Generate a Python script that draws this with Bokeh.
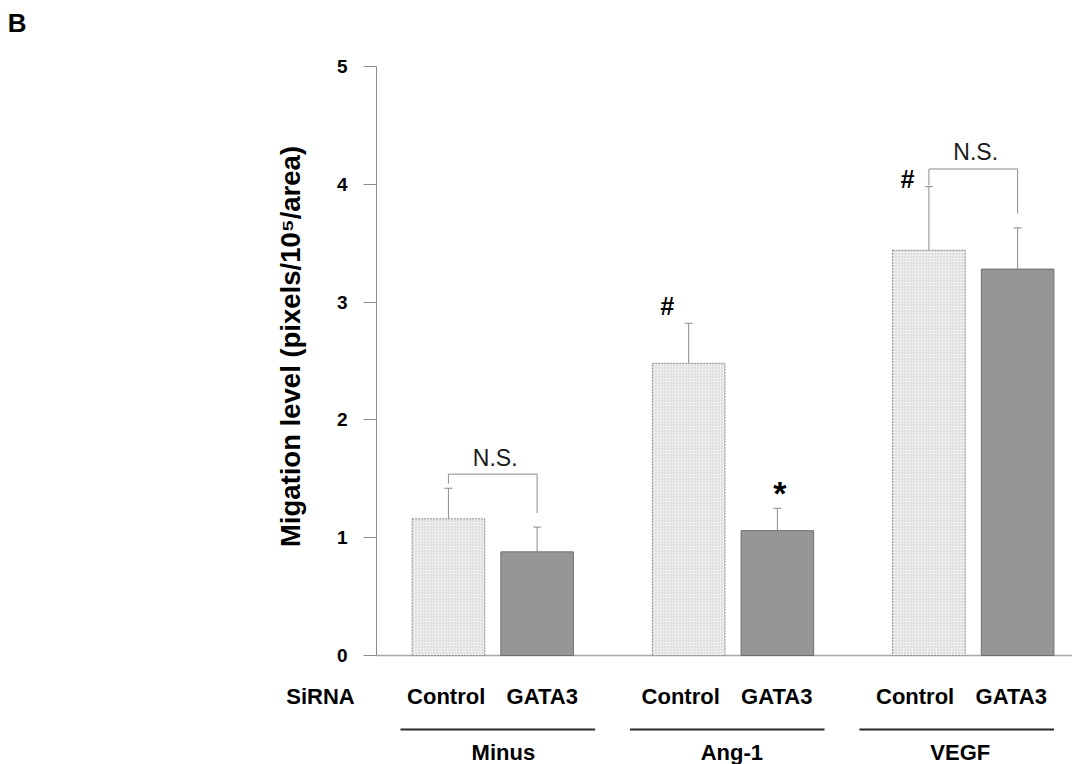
import math
from bokeh.plotting import figure
from bokeh.models import ColumnDataSource, Range1d, FixedTicker, Whisker, TeeHead
from bokeh.core.properties import value
from bokeh.embed import file_html
from bokeh.resources import INLINE

# ---------------- data ----------------
groups = ["Minus", "Ang-1", "VEGF"]
sirna = ["Control", "GATA3"]
control_mean = [1.16, 2.48, 3.44]
control_err = [0.26, 0.34, 0.54]
gata3_mean = [0.88, 1.06, 3.28]
gata3_err = [0.21, 0.19, 0.35]
y_ticks = [0, 1, 2, 3, 4, 5]

# significance annotations (values on the y scale)
ns_groups = [0, 2]
ns_bracket_top = [1.54, 4.13]
ns_left_end = [1.46, 3.99]
ns_right_end = [1.21, 3.75]
ns_text_y = [1.677, 4.274]
hash_groups = [1, 2]
hash_y = [2.963, 4.049]
star_groups = [1]
star_y = [1.377]

# ---------------- layout ----------------
OFF = 0.1846      # half distance between bars within a group
BW = 0.302        # bar width
AX_X = -0.484     # x position of the y axis
FONT = "Liberation Sans"
# rows below the axis: (centre of middle group, step between groups)
ROW_LABELS = (0.982, 0.976)
ROW_LINES = (0.976, 0.955)
ROW_NAMES = (0.995, 0.951)


def row_pos(row, g):
    mid, step = row
    return mid + (g - 1) * step


p = figure(width=1072, height=764,
           x_range=Range1d(-2.049, 2.413), y_range=Range1d(-0.925, 5.560),
           output_backend="svg", toolbar_location=None, x_axis_location=None,
           min_border_left=0, min_border_right=0, min_border_top=0, min_border_bottom=0)
p.outline_line_color = None
p.grid.visible = False
p.background_fill_color = "white"
p.border_fill_color = "white"

gx = list(range(len(groups)))
ctrl_x = [g - OFF for g in gx]
gata_x = [g + OFF for g in gx]

src_c = ColumnDataSource(dict(x=ctrl_x, top=control_mean,
                              upper=[m + e for m, e in zip(control_mean, control_err)]))
src_g = ColumnDataSource(dict(x=gata_x, top=gata3_mean,
                              upper=[m + e for m, e in zip(gata3_mean, gata3_err)]))

# baseline (x axis line)
p.segment(x0=[AX_X], x1=[p.x_range.end], y0=[0], y1=[0], line_color="#a8a8a8", line_width=1.5)

p.vbar(x="x", top="top", bottom=0, width=BW, source=src_c,
       fill_color="#ededed", hatch_pattern="dot", hatch_color="#c9c9c9", hatch_scale=3,
       hatch_weight=1, line_color="#8a8a8a", line_dash="2 1", line_width=1)
p.vbar(x="x", top="top", bottom=0, width=BW, source=src_g,
       fill_color="#969696", line_color="#6e6e6e", line_width=1)

for s in (src_c, src_g):
    p.add_layout(Whisker(source=s, base="x", lower="top", upper="upper",
                         line_color="#8c8c8c", line_width=1,
                         upper_head=TeeHead(size=8, line_color="#8c8c8c", line_width=1),
                         lower_head=None))

# y axis, drawn at a fixed x location
ax = p.yaxis[0]
ax.fixed_location = AX_X
ax.ticker = FixedTicker(ticks=y_ticks)
ax.bounds = (0, 5)
ax.axis_line_color = "#8c8c8c"
ax.axis_line_width = 1
ax.major_tick_line_color = "#8c8c8c"
ax.major_tick_out = 13
ax.major_tick_in = 0
ax.minor_tick_line_color = None
ax.major_label_standoff = 16
ax.major_label_text_font = FONT
ax.major_label_text_font_style = "bold"
ax.major_label_text_font_size = "19px"
ax.major_label_text_color = "black"

# N.S. brackets
bx, by = [], []
for gi, top, le, re in zip(ns_groups, ns_bracket_top, ns_left_end, ns_right_end):
    xl, xr = ctrl_x[gi], gata_x[gi]
    bx.append([xl, xl, xr, xr])
    by.append([le, top, top, re])
p.multi_line(xs=bx, ys=by, line_color="#8c8c8c", line_width=1)
p.text(x=[gx[g] + 0.01 for g in ns_groups], y=ns_text_y, text=["N.S."] * len(ns_groups),
       text_font=value(FONT), text_font_size="23px", text_color="#1a1a1a",
       text_align="center", text_baseline="middle")

# # and * marks
p.text(x=[ctrl_x[g] - 0.09 for g in hash_groups], y=hash_y, text=["#"] * len(hash_groups),
       text_font=value(FONT), text_font_size="25px", text_font_style="bold italic",
       text_color="black", text_align="center", text_baseline="middle")
p.text(x=[gata_x[g] + 0.01 for g in star_groups], y=star_y, text=["*"] * len(star_groups),
       text_font=value(FONT), text_font_size="34px", text_font_style="bold",
       text_color="black", text_align="center", text_baseline="middle")

# category labels below the axis
lab_x, lab_t = [], []
for g in gx:
    c = row_pos(ROW_LABELS, g)
    lab_x += [c - 0.2, c + 0.2]
    lab_t += sirna
p.text(x=lab_x, y=[-0.344] * len(lab_x), text=lab_t,
       text_font=value(FONT), text_font_size="22px", text_font_style="bold",
       text_color="black", text_align="center", text_baseline="middle")
p.text(x=[AX_X - 0.233], y=[-0.344], text=["SiRNA"],
       text_font=value(FONT), text_font_size="22px", text_font_style="bold",
       text_color="black", text_align="center", text_baseline="middle")

# group underlines and group names
p.segment(x0=[row_pos(ROW_LINES, g) - 0.405 for g in gx],
          x1=[row_pos(ROW_LINES, g) + 0.405 for g in gx],
          y0=[-0.628] * len(gx), y1=[-0.628] * len(gx), line_color="#2a2a2a", line_width=2)
p.text(x=[row_pos(ROW_NAMES, g) for g in gx], y=[-0.819] * len(gx), text=groups,
       text_font=value(FONT), text_font_size="22px", text_font_style="bold",
       text_color="black", text_align="center", text_baseline="middle")

# axis title and panel letter
p.text(x=[AX_X - 0.358], y=[2.623], text=["Migation level (pixels/10\u2075/area)"],
       angle=math.pi / 2, text_font=value(FONT), text_font_size="27.5px",
       text_font_style="bold", text_color="black", text_align="center",
       text_baseline="middle")
p.text(x=[-1.980], y=[5.369], text=["B"], text_font=value(FONT), text_font_size="26px",
       text_font_style="bold", text_color="black", text_align="center",
       text_baseline="middle")

open("out.html", "w").write(file_html(p, INLINE))
